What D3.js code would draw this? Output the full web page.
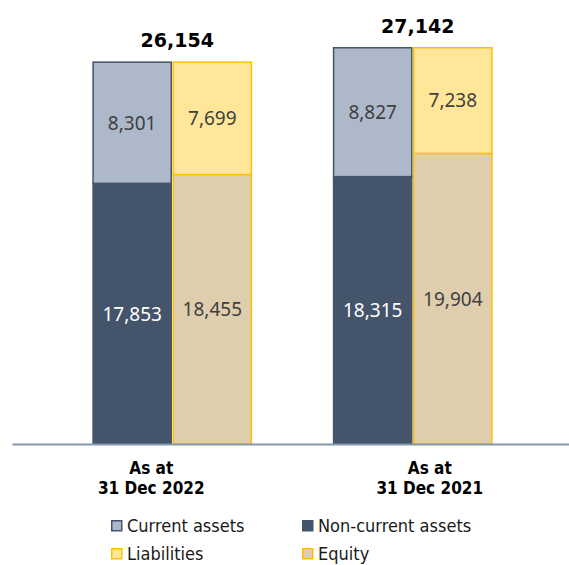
<!DOCTYPE html>
<html lang="en">
<head>
<meta charset="UTF-8" />
<script src="https://d3js.org/d3.v7.min.js"></script>
<title>Balance sheet</title>
<style>
  body { margin: 0; background: #fff; }
  .val { font-family: "Noto Sans", sans-serif; font-size: 19px; }
  .total { font-family: "DejaVu Sans", sans-serif; font-weight: bold; font-size: 19px; fill: #000; }
  .cat text { font-family: "DejaVu Sans Condensed", "DejaVu Sans", sans-serif; font-weight: bold; font-size: 17px; fill: #000; }
  .legend text { font-family: "DejaVu Sans Condensed", "DejaVu Sans", sans-serif; font-size: 18px; fill: #1a1a1a; }
</style>
</head>
<body>
<script>
// data
var categories = ["As at|31 Dec 2022", "As at|31 Dec 2021"];
var currentAssets = [8301, 8827];
var nonCurrentAssets = [17853, 18315];
var liabilities = [7699, 7238];
var equity = [18455, 19904];
var totals = [26154, 27142];
var legendNames = ["Current assets", "Non-current assets", "Liabilities", "Equity"];

var width = 569, height = 565;
var baseY = 444;

var svg = d3.select("body").append("svg")
  .attr("width", width).attr("height", height);

var y = d3.scaleLinear().domain([0, 30000]).range([baseY, 6]);

var x0 = d3.scaleBand().domain(categories).range([52, 533])
  .paddingInner(0.3417).paddingOuter(0.1708);
var x1 = d3.scaleBand().domain(["assets", "funding"]).range([0, x0.bandwidth()])
  .paddingInner(0.025);
var xLab = d3.scaleBand().domain(categories).range([12, 569]);

// series description (bottom segment first)
var stacks = [
  { side: "assets", parts: [
    { name: "Non-current assets", vals: nonCurrentAssets, fill: "#44546A", stroke: "#44546A", text: "#ffffff" },
    { name: "Current assets", vals: currentAssets, fill: "#ADB9CA", stroke: "#44546A", text: "#404040" } ] },
  { side: "funding", parts: [
    { name: "Equity", vals: equity, fill: "#DECEAD", stroke: "#FFC000", text: "#404040" },
    { name: "Liabilities", vals: liabilities, fill: "#FFE699", stroke: "#FFC000", text: "#404040" } ] }
];

var segs = [];
categories.forEach(function (c, i) {
  stacks.forEach(function (s) {
    var acc = 0;
    s.parts.forEach(function (p) {
      segs.push({ cat: c, side: s.side, y0: acc, y1: acc + p.vals[i], v: p.vals[i], p: p });
      acc += p.vals[i];
    });
  });
});

var g = svg.append("g");
g.selectAll("rect.seg").data(segs).enter().append("rect")
  .attr("class", "seg")
  .attr("x", function (d) { return x0(d.cat) + x1(d.side); })
  .attr("width", x1.bandwidth())
  .attr("y", function (d) { return y(d.y1); })
  .attr("height", function (d) { return y(d.y0) - y(d.y1); })
  .attr("fill", function (d) { return d.p.fill; })
  .attr("stroke", function (d) { return d.p.stroke; })
  .attr("stroke-width", 1.5);

g.selectAll("text.val").data(segs).enter().append("text")
  .attr("class", "val")
  .attr("x", function (d) { return x0(d.cat) + x1(d.side) + x1.bandwidth() / 2; })
  .attr("y", function (d) { return (y(d.y0) + y(d.y1)) / 2; })
  .attr("dy", "0.36em")
  .attr("text-anchor", "middle")
  .attr("fill", function (d) { return d.p.text; })
  .text(function (d) { return d3.format(",")(d.v); });

// totals
svg.selectAll("text.total").data(categories).enter().append("text")
  .attr("class", "total")
  .attr("x", function (d) { return x0(d) + x0.bandwidth() / 2 + 5; })
  .attr("y", function (d, i) { return y(totals[i]) - 15; })
  .attr("text-anchor", "middle")
  .text(function (d, i) { return d3.format(",")(totals[i]); });

// axis
var axis = svg.append("g").attr("class", "cat")
  .attr("transform", "translate(0," + baseY + ")")
  .call(d3.axisBottom(xLab).tickSize(0).tickSizeOuter(0).tickFormat(""));
axis.select(".domain").attr("stroke", "#8497B0").attr("stroke-width", 2);
axis.selectAll(".tick").each(function (d) {
  var t = d3.select(this).append("text").attr("text-anchor", "middle").attr("y", 30);
  d.split("|").forEach(function (line, k) {
    t.append("tspan").attr("x", 0).attr("dy", k === 0 ? 0 : 20).text(line);
  });
});

// legend
var legendStyle = {
  "Current assets": stacks[0].parts[1],
  "Non-current assets": stacks[0].parts[0],
  "Liabilities": stacks[1].parts[1],
  "Equity": stacks[1].parts[0]
};
var lg = svg.append("g").attr("class", "legend");
var items = lg.selectAll("g").data(legendNames).enter().append("g")
  .attr("transform", function (d, i) {
    return "translate(" + (i % 2 === 0 ? 111 : 302) + "," + (i < 2 ? 520 : 548) + ")";
  });
items.append("rect").attr("x", 0.75).attr("y", 0.75).attr("width", 10).attr("height", 10)
  .attr("fill", function (d) { return legendStyle[d].fill; })
  .attr("stroke", function (d) { return legendStyle[d].stroke; })
  .attr("stroke-width", 1.5);
items.append("text").attr("x", 16).attr("y", 12).text(function (d) { return d; });
</script>
</body>
</html>
